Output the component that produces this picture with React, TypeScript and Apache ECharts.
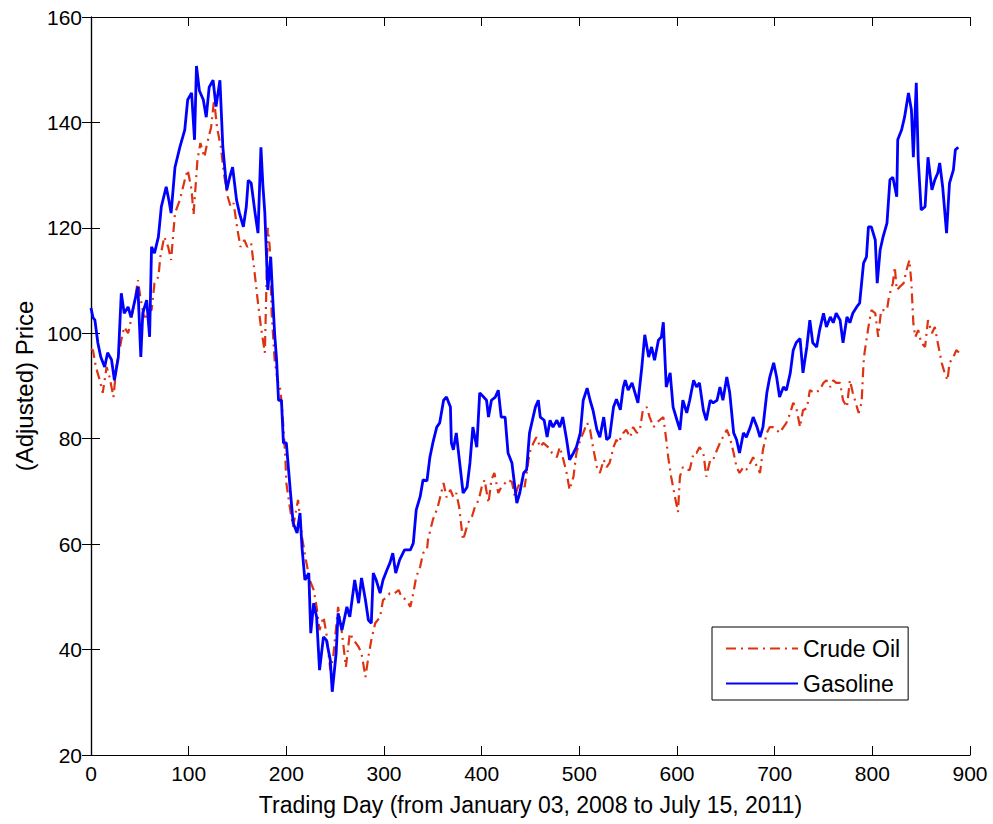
import React, { useEffect, useRef } from "react";
import * as echarts from "echarts";

const xTicks = [0, 900, 100];
const yTicks = [20, 160, 20];

const seriesNames = ["Crude Oil", "Gasoline"];

const crudeOil: [number, number][] = [
  [0, 97], [2, 96.8], [5, 93.6], [9, 91.1], [12, 88.7], [16, 93.6], [19, 91.7], [23, 87.9], [26, 93.6], [31, 98.7],
  [34, 101.2], [38, 100], [41, 102.5], [45, 106.3], [48, 110.1], [51, 106.3], [55, 102.5], [58, 104.4], [62, 104.4],
  [65, 109.5], [69, 110.7], [71, 114.5], [75, 118.3], [79, 116.4], [82, 113.9], [86, 122.8], [91, 125.3], [96, 129.1],
  [99, 131], [103, 127.2], [105, 122.5], [109, 132.9], [112, 136.1], [116, 133.4], [119, 136.1], [123, 139.1],
  [126, 144.3], [129, 139.1], [133, 135.3], [136, 130.4], [140, 125.9], [143, 124], [146, 124.7], [150, 119.6],
  [153, 116.4], [157, 117.7], [160, 116.4], [164, 117.1], [168, 110.7], [171, 105.7], [174, 101.2], [178, 96.3],
  [181, 120], [183, 116.4], [185, 103.8], [188, 95], [191, 91.1], [194, 89.2], [196, 85], [199, 76.5], [200, 71.6],
  [204, 66.5], [207, 63.3], [212, 68.4], [216, 61.4], [220, 57], [224, 53.2], [228, 51.3], [231, 48.1], [234, 43.7],
  [238, 46.2], [241, 43.1], [245, 36.1], [248, 38.6], [253, 48.1], [257, 43.1], [261, 36.7], [265, 43.1], [269, 41.8],
  [274, 40.5], [277, 39.3], [281, 34.8], [284, 38.6], [287, 41.8], [291, 45], [296, 46.2], [299, 49.4], [303, 50],
  [306, 50.7], [311, 50.7], [315, 51.3], [318, 50], [323, 49.4], [327, 48.1], [330, 50.7], [333, 53.8], [337, 55.7],
  [340, 58.3], [344, 58.9], [345, 60.8], [350, 64.6], [355, 67], [361, 71.6], [364, 68.9], [368, 70.3], [371, 68.9],
  [374, 69.7], [377, 67], [380, 62.1], [381, 60.8], [386, 64], [390, 65.2], [393, 67], [397, 68.4], [400, 70.8],
  [403, 72.2], [407, 67.8], [410, 72.2], [413, 73.5], [417, 69.7], [420, 70.8], [424, 71.6], [427, 72.2], [431, 71.8],
  [434, 68.9], [437, 70.8], [441, 72.2], [444, 70.8], [449, 77.3], [453, 79.2], [456, 80.3], [460, 78.4], [463, 79.2],
  [468, 78.4], [472, 77.3], [477, 76.5], [480, 78.4], [483, 76.5], [487, 73.5], [490, 70.3], [494, 72.8], [497, 77.3],
  [501, 79.8], [504, 81.1], [508, 83], [511, 81.7], [514, 78.4], [518, 74.6], [521, 73.5], [525, 76], [528, 74.6],
  [531, 75.4], [535, 78.4], [538, 79.8], [540, 79.2], [545, 81.1], [548, 81.7], [552, 80.3], [555, 82.2], [559, 81.1],
  [562, 81.7], [565, 85.4], [569, 86], [572, 84.1], [576, 82.2], [579, 83], [582, 83.5], [586, 84.1], [589, 79.8],
  [591, 76.5], [594, 72.8], [598, 68.9], [601, 66.1], [603, 72.8], [606, 74.6], [610, 74.1], [613, 74.1], [617, 77.3],
  [620, 77.3], [623, 78.4], [627, 77.3], [630, 72.8], [634, 76], [637, 76], [641, 77.9], [644, 79.2], [647, 80.3],
  [651, 81.7], [654, 80.3], [658, 77.3], [661, 74.6], [664, 73.5], [668, 74.6], [671, 74.1], [675, 75.4], [678, 76.5],
  [682, 74.6], [685, 73.5], [688, 77.9], [692, 81.1], [695, 82.2], [699, 82.2], [702, 81.7], [705, 81.1], [709, 82.2],
  [712, 83], [716, 84.9], [719, 86.8], [722, 86], [726, 82.2], [729, 85.4], [733, 85.8], [736, 89.2], [741, 88.7],
  [746, 89.2], [750, 90.6], [753, 91.1], [757, 89.8], [760, 91.1], [763, 90.6], [767, 90.6], [770, 87.3], [774, 86],
  [777, 91.1], [780, 88.7], [786, 84.9], [789, 86.8], [791, 94.4], [792, 96.3], [796, 101.2], [799, 104.4], [803, 103.8],
  [806, 99.3], [809, 104.4], [815, 104.4], [817, 106.9], [821, 109.5], [823, 112.6], [825, 108.2], [828, 108.8],
  [832, 109.5], [835, 112], [838, 113.9], [840, 109.5], [842, 101.9], [844, 99.3], [847, 100.6], [850, 98.2],
  [854, 97.4], [857, 102.5], [861, 100], [864, 101.2], [867, 98.2], [871, 94.4], [874, 92.5], [877, 91.1], [879, 94.4],
  [883, 95.5], [886, 96.8], [889, 96.3],
];

const gasoline: [number, number][] = [
  [0, 104.8], [2, 103], [4, 102.5], [7, 98.2], [10, 95.5], [14, 93.6], [17, 96.3], [21, 95], [24, 91.1], [28, 95.5],
  [31, 107.6], [34, 103.8], [38, 105], [41, 103], [45, 106.3], [48, 108.8], [51, 95.5], [53, 103.8], [57, 106.3],
  [60, 99.3], [62, 116.4], [65, 115.2], [69, 118.3], [72, 124], [77, 127.8], [80, 125], [82, 122.8], [86, 131.5],
  [91, 135.3], [96, 138.6], [99, 144.3], [103, 145.6], [106, 136.7], [108, 150.7], [111, 146], [115, 144.3],
  [118, 141], [121, 146.7], [125, 148], [128, 143], [132, 148], [135, 135.3], [139, 127.2], [142, 129.6], [145, 131.5],
  [149, 125.3], [152, 122.8], [156, 120.2], [159, 124], [161, 129], [164, 128.5], [168, 122.8], [171, 119],
  [174, 135.3], [176, 128], [178, 122.8], [181, 108.2], [184, 114.5], [186, 106.9], [188, 100], [190, 95],
  [192, 87.3], [195, 87.3], [197, 79.2], [200, 79.2], [204, 70.3], [207, 64], [211, 62.1], [214, 65.9], [216, 59.5],
  [219, 53.2], [223, 54.5], [225, 43.1], [228, 48.8], [231, 46.2], [234, 36.1], [238, 42.4], [241, 41.8], [245, 38],
  [247, 32], [251, 39.3], [253, 46.9], [257, 43.7], [262, 48.1], [265, 46.2], [270, 53.2], [274, 48.8], [277, 53.6],
  [281, 49.4], [284, 45.6], [287, 45], [289, 54.5], [292, 53.2], [296, 50.7], [299, 53.2], [303, 55.1], [306, 56.4],
  [309, 58.3], [312, 54.5], [316, 57], [321, 58.9], [327, 58.9], [330, 60.2], [333, 66.5], [337, 69], [340, 72.2],
  [344, 72], [347, 76.5], [350, 79.2], [354, 82.2], [357, 83], [361, 87.3], [364, 87.9], [368, 86], [369, 79.2],
  [371, 77.9], [374, 81.1], [378, 74.6], [381, 69.7], [385, 70.8], [388, 75.4], [391, 82.2], [395, 78.4], [398, 88.7],
  [402, 87.9], [405, 87.3], [407, 84.1], [410, 87.3], [414, 87.9], [417, 89.2], [420, 84.1], [424, 84.1], [427, 77.3],
  [431, 75.4], [434, 70.8], [436, 67.8], [439, 69.7], [443, 73.5], [446, 74.1], [449, 81.1], [455, 86], [458, 87.3],
  [460, 84.1], [464, 83.5], [467, 80.3], [470, 83.5], [473, 82.2], [477, 83.5], [480, 82.2], [483, 84.1], [487, 79.8],
  [490, 76], [494, 77.3], [497, 78.4], [501, 81.1], [504, 87.3], [508, 89.6], [511, 87.3], [514, 85.4], [518, 81.7],
  [521, 80.3], [525, 84.1], [528, 79.8], [531, 80.3], [535, 86], [538, 87.5], [542, 85.5], [545, 89.8], [547, 91.1],
  [550, 89.2], [554, 90.6], [557, 88.7], [560, 86.8], [564, 93.6], [567, 99.7], [571, 95.5], [574, 97.4], [577, 94.9],
  [581, 98.7], [584, 99.3], [586, 102.1], [589, 89.8], [593, 92.5], [596, 86], [600, 83.5], [603, 81.7], [606, 87.3],
  [610, 84.9], [613, 87.3], [617, 91.1], [620, 89.8], [623, 90.6], [627, 85.4], [630, 83.5], [634, 87.3], [637, 86.8],
  [641, 87.3], [644, 89.8], [647, 87.3], [651, 91.7], [654, 88.7], [658, 81.1], [661, 79.8], [664, 77.3], [668, 81.1],
  [671, 80.3], [675, 82.2], [678, 84.1], [682, 82.2], [685, 80.3], [688, 82.2], [692, 88.7], [695, 91.7], [699, 94.4],
  [702, 91.7], [705, 87.9], [709, 89.8], [712, 89.2], [716, 92.5], [719, 96.8], [722, 98.2], [726, 99], [729, 92.5],
  [733, 97.5], [736, 102.5], [739, 98.2], [743, 97.4], [746, 100.6], [750, 103.8], [753, 101.2], [757, 103.1],
  [760, 102], [763, 103.8], [767, 102.5], [770, 98.2], [774, 103.1], [777, 102], [780, 103.8], [784, 105],
  [787, 105.7], [791, 113.3], [794, 114.5], [796, 120.2], [799, 120.2], [803, 117.7], [805, 109.5], [808, 115.8],
  [811, 118.3], [815, 120.9], [818, 129.1], [821, 129.6], [825, 125.9], [826, 136.7], [830, 138.6], [833, 141],
  [837, 145.6], [840, 142.4], [842, 133.4], [845, 147.5], [847, 132.9], [850, 123.4], [854, 124], [857, 133.4],
  [861, 127.2], [864, 129.1], [867, 130.4], [869, 132.3], [872, 127.8], [876, 119], [879, 128.5], [883, 131],
  [885, 134.8], [888, 135.3],
];

const FONT = "'Liberation Sans', Arial, Helvetica, sans-serif";

export default function App() {
  const ref = useRef<HTMLDivElement>(null);
  useEffect(() => {
    document.body.style.margin = "0";
    if (!ref.current) return;
    const chart = echarts.init(ref.current, undefined, { renderer: "svg" });
    const axisLine = { show: true, lineStyle: { color: "#000", width: 1.2 } };
    const tick = { show: true, inside: true, length: 9, lineStyle: { color: "#000", width: 1 } };
    const baseX = { type: "value", min: xTicks[0], max: xTicks[1], interval: xTicks[2], splitLine: { show: false }, axisLine, axisTick: tick };
    const baseY = { type: "value", min: yTicks[0], max: yTicks[1], interval: yTicks[2], splitLine: { show: false }, axisLine, axisTick: tick };
    chart.setOption({
      animation: false,
      backgroundColor: "#fff",
      textStyle: { fontFamily: FONT },
      grid: { left: 91, right: 23, top: 17, bottom: 69, containLabel: false },
      xAxis: [
        {
          ...baseX,
          position: "bottom",
          axisLabel: { color: "#000", fontSize: 21, fontFamily: FONT, margin: 8 },
          name: "Trading Day (from January 03, 2008 to July 15, 2011)",
          nameLocation: "middle",
          nameGap: 38,
          nameTextStyle: { color: "#000", fontSize: 23, fontFamily: FONT },
        },
        { ...baseX, position: "top", axisLabel: { show: false } },
      ],
      yAxis: [
        {
          ...baseY,
          position: "left",
          axisLabel: { color: "#000", fontSize: 21, fontFamily: FONT, margin: 9 },
          name: "(Adjusted) Price",
          nameLocation: "middle",
          nameGap: 52,
          nameTextStyle: { color: "#000", fontSize: 24, fontFamily: FONT },
        },
        { ...baseY, position: "right", axisLabel: { show: false } },
      ],
      legend: {
        orient: "vertical",
        left: 712,
        top: 627,
        data: seriesNames,
        backgroundColor: "#fff",
        borderColor: "#000",
        borderWidth: 1,
        padding: [10, 8, 5, 13],
        itemWidth: 72,
        itemHeight: 14,
        itemGap: 12,
        itemStyle: { opacity: 0 },
        textStyle: { color: "#000", fontSize: 23, fontFamily: FONT },
      },
      series: [
        {
          name: seriesNames[0],
          type: "line",
          data: crudeOil,
          xAxisIndex: 0,
          yAxisIndex: 0,
          showSymbol: false,
          symbol: "none",
          lineStyle: { color: "#dd3311", width: 2.2, type: [10, 5, 2, 5] },
          itemStyle: { color: "#dd3311" },
          z: 2,
        },
        {
          name: seriesNames[1],
          type: "line",
          data: gasoline,
          xAxisIndex: 0,
          yAxisIndex: 0,
          showSymbol: false,
          symbol: "none",
          lineStyle: { color: "#0000ff", width: 2.8 },
          itemStyle: { color: "#0000ff" },
          z: 3,
        },
      ],
    });
    return () => chart.dispose();
  }, []);
  return <div ref={ref} style={{ width: 993, height: 824 }} />;
}
